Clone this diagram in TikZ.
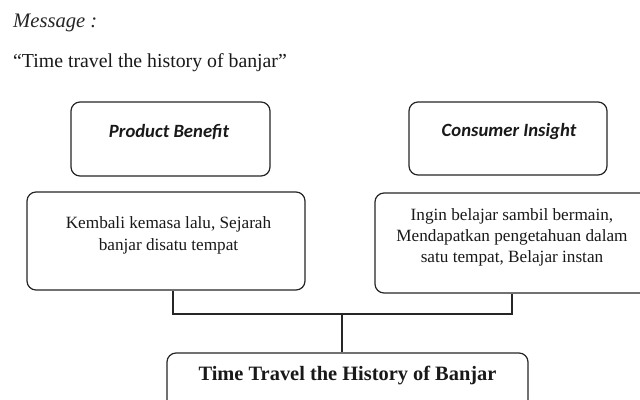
\documentclass[tikz,border=0pt]{standalone}
\usepackage{fontspec}
\setmainfont{Liberation Serif}
\newfontfamily\carlitofont{Carlito}
\begin{document}
\begin{tikzpicture}[x=1pt,y=-1pt,
  box/.style={draw=black!85,line width=1.2pt,rounded corners=9pt,inner sep=0pt},
  conn/.style={draw=black!85,line width=1.1pt},
  boxtxt/.style={anchor=base,inner sep=0pt,font=\fontsize{17.2}{21}\selectfont,text=black!90},
  headtxt/.style={anchor=base,inner sep=0pt,font=\carlitofont\bfseries\itshape\fontsize{18.7}{22}\selectfont,text=black!90}]
\useasboundingbox (0,0) rectangle (640,399);
\fill[white] (0,0) rectangle (640,399);
\clip (0,0) rectangle (640,399);
% heading texts
\node[anchor=base west,inner sep=0pt,font=\itshape\fontsize{20.6}{24}\selectfont,text=black!85] (msg) at (13,27) {Message :};
\node[anchor=base west,inner sep=0pt,font=\fontsize{19.8}{24}\selectfont,text=black!90] (quote) at (13,67) {``Time travel the history of banjar''};
% boxes
\node[box,minimum width=199pt,minimum height=74pt] (pb) at (170.5,139) {};
\node[box,minimum width=198pt,minimum height=73pt] (ci) at (508,138.5) {};
\node[box,minimum width=278pt,minimum height=98pt] (ll) at (166,241) {};
\node[box,minimum width=274pt,minimum height=100pt] (lr) at (512,243) {};
\node[box,minimum width=361pt,minimum height=60pt] (bt) at (347.5,383) {};
% box texts
\node[headtxt] (pbt) at (169,137.5) {Product Benefit};
\node[headtxt] (cit) at (509,136.5) {Consumer Insight};
\node[boxtxt] (ll1) at (168.5,228.3) {Kembali kemasa lalu, Sejarah};
\node[boxtxt] (ll2) at (168.5,250) {banjar disatu tempat};
\node[boxtxt] (lr1) at (512,220) {Ingin belajar sambil bermain,};
\node[boxtxt] (lr2) at (512,241) {Mendapatkan pengetahuan dalam};
\node[boxtxt] (lr3) at (512,262) {satu tempat, Belajar instan};
\node[anchor=base,inner sep=0pt,font=\bfseries\fontsize{20.4}{24}\selectfont,text=black!90] (btt) at (347.5,380) {Time Travel the History of Banjar};
% connectors
\coordinate (jl) at (173,314);
\coordinate (jr) at (512,314);
\coordinate (jm) at (342,314);
\draw[conn] (ll.south -| jl) -- (jl) -- (jr) -- (lr.south -| jr);
\draw[conn] (jm) -- (bt.north -| jm);
\end{tikzpicture}
\end{document}
